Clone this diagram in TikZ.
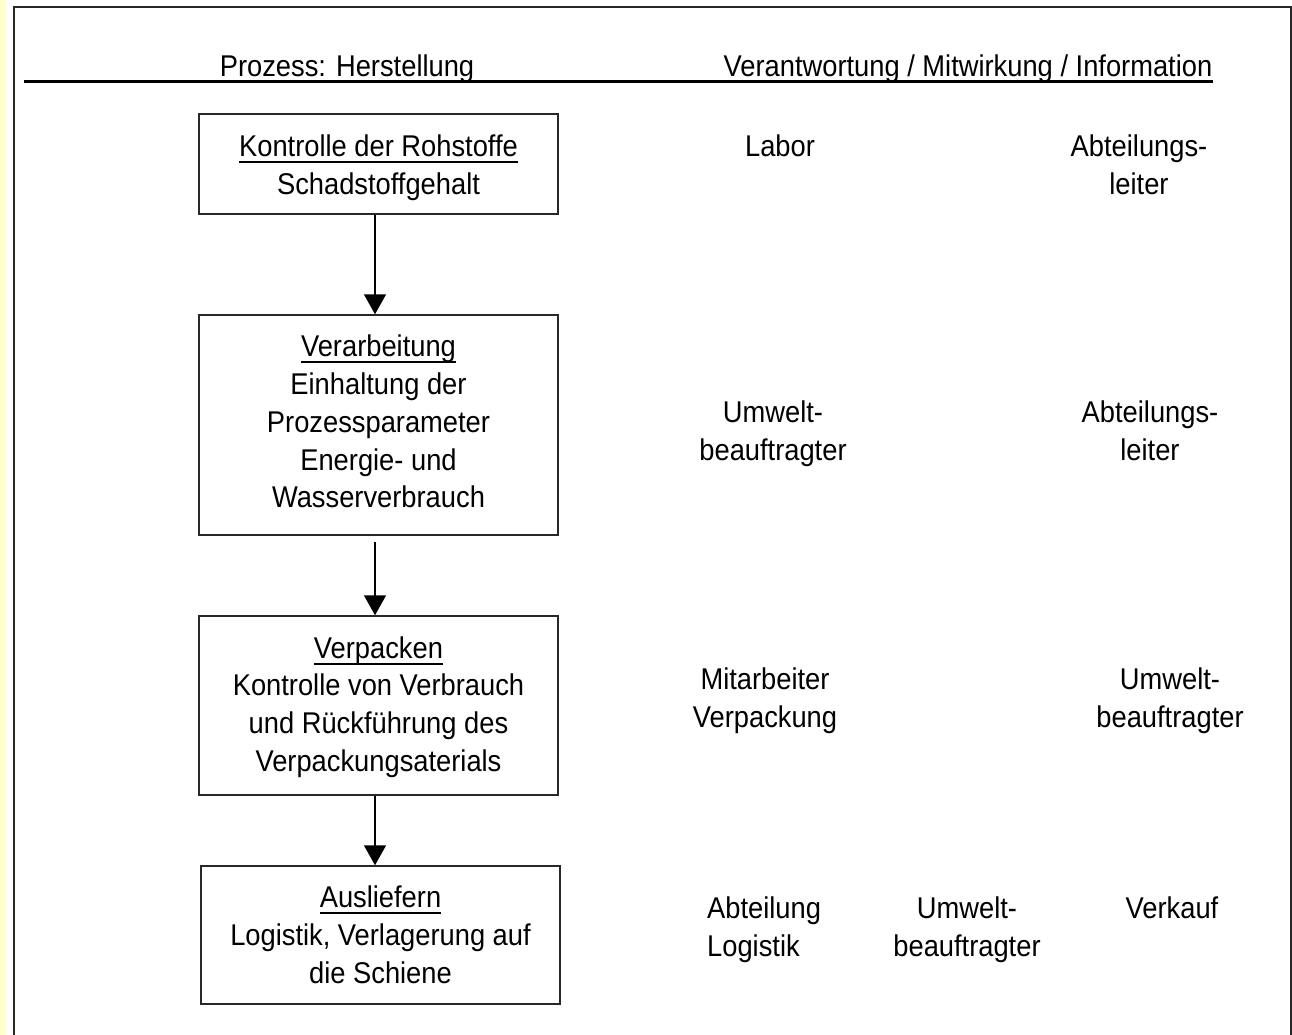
\documentclass[tikz,border=0pt]{standalone}
\usepackage{fontspec}
\setmainfont{Liberation Sans}[FakeStretch=0.91]
\usetikzlibrary{arrows.meta}
\definecolor{stripyellow}{RGB}{255,255,204}
\definecolor{framegray}{RGB}{40,40,40}
% uniform line height so that node centres sit between baselines
\newcommand\lnstrut{\rule[-7pt]{0pt}{35pt}}
% underlined step title
\newcommand\ulword[1]{\setbox0=\hbox{#1}\rlap{\rule[-6.5pt]{\wd0}{2pt}}\box0}
\tikzset{
  txt/.style={inner sep=0pt, align=center, text=black,
    font=\fontsize{30pt}{37.8pt}\selectfont,
    execute at begin node=\lnstrut, execute at end node=\lnstrut},
  stepbox/.style={draw=framegray, line width=1.5pt, inner sep=0pt, minimum width=359pt},
  arr/.style={draw=black, line width=1.5pt, -{Triangle[width=22pt,length=20pt]}},
}
\begin{document}
\begin{tikzpicture}[x=1pt,y=-1pt]
\useasboundingbox (0,0) rectangle (1292,1035);
\fill[white] (0,0) rectangle (1292,1035);
\fill[stripyellow] (0,0) rectangle (5.5,1035);
\draw[framegray, line width=1.5pt] (14,1035) -- (14,7) -- (1291,7) -- (1291,1035);

% header
\coordinate (hl) at (24,82);
\coordinate (hr) at (1213,82);
\draw[line width=3pt] (hl) -- (hr);
\node[txt, anchor=base] (h1) at (347,77) {Prozess: Herstellung};
\node[txt, anchor=base] (h2) at (968,77) {Verantwortung / Mitwirkung / Information};

% process steps: frames
\node[stepbox, minimum height=100pt] (b1) at (378.5,164) {};
\node[stepbox, minimum height=220pt] (b2) at (378.5,425) {};
\node[stepbox, minimum height=179pt] (b3) at (378.5,705.5) {};
\node[stepbox, minimum height=138pt] (b4) at (380.5,935) {};
% process steps: texts
\node[txt] (t1) at (378.5,168)
  {\ulword{Kontrolle der Rohstoffe}\\Schadstoffgehalt};
\node[txt] (t2) at (378.5,425)
  {\ulword{Verarbeitung}\\Einhaltung der\\Prozessparameter\\Energie- und\\Wasserverbrauch};
\node[txt] (t3) at (378.5,707.5)
  {\ulword{Verpacken}\\Kontrolle von Verbrauch\\und Rückführung des\\Verpackungsaterials};
\node[txt] (t4) at (380.5,938)
  {\ulword{Ausliefern}\\Logistik, Verlagerung auf\\die Schiene};

% flow arrows
\coordinate (ax) at (375,0);
\draw[arr] (b1.south -| ax) -- (b2.north -| ax);
\draw[arr, shorten <=6pt] (b2.south -| ax) -- (b3.north -| ax);
\draw[arr] (b3.south -| ax) -- (b4.north -| ax);

% responsibilities
\node[txt] (r1a) at (780,146) {Labor};
\node[txt] (r1b) at (1139,168) {Abteilungs-\\leiter};
\node[txt] (r2a) at (773,434) {Umwelt-\\beauftragter};
\node[txt] (r2b) at (1150,434) {Abteilungs-\\leiter};
\node[txt] (r3a) at (765,701) {Mitarbeiter\\Verpackung};
\node[txt] (r3b) at (1170,701) {Umwelt-\\beauftragter};
\node[txt, align=left, anchor=west] (r4a) at (707,930) {Abteilung\\Logistik};
\node[txt] (r4b) at (967,930) {Umwelt-\\beauftragter};
\node[txt] (r4c) at (1172,908) {Verkauf};
\end{tikzpicture}
\end{document}
